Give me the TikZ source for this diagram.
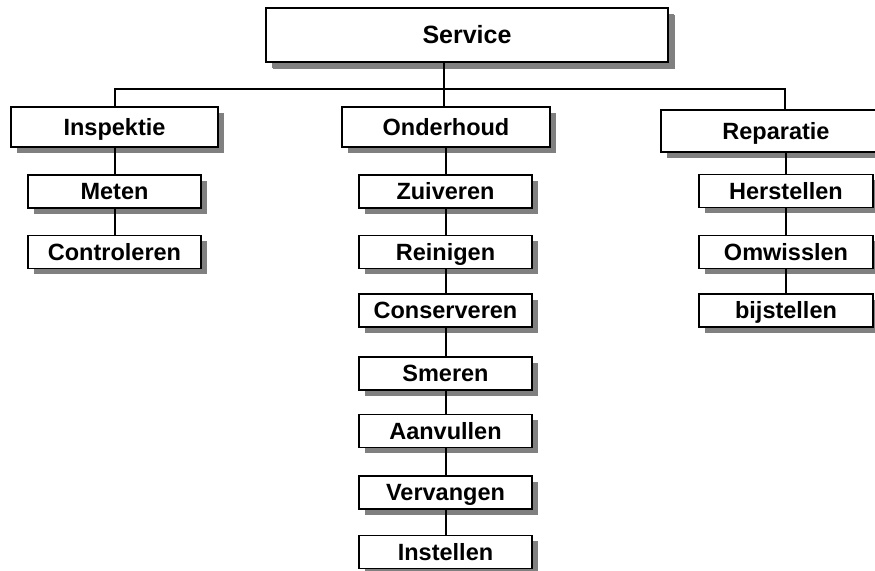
\documentclass[tikz,border=0pt]{standalone}
\usepackage{fontspec}
\setmainfont{Liberation Sans}
\usetikzlibrary{shadows}
\tikzset{
  box/.style={draw=black, line width=1.8pt, fill=white, inner sep=0pt,
    font=\bfseries\fontsize{23.5}{28}\selectfont,
    text height=17pt, text depth=0.2pt,
    general shadow={fill=black!50, shadow xshift=5.5pt, shadow yshift=-5.5pt}},
  bigbox/.style={box, font=\bfseries\fontsize{25}{30}\selectfont,
    text height=18pt, text depth=0.1pt,
    general shadow={fill=black!50, shadow xshift=6.5pt, shadow yshift=-6.5pt}},
  small/.style={box, minimum width=173pt, minimum height=33pt},
  mid/.style={box, minimum width=207pt, minimum height=40pt},
  conn/.style={line width=2pt, draw=black}
}
\begin{document}
\begin{tikzpicture}[x=1pt, y=-1pt]
\path[use as bounding box, clip] (0,0) rectangle (875,570);
\fill[white] (0,0) rectangle (875,570);
% nodes
\node[bigbox, minimum width=402pt, minimum height=54pt] (svc) at (467,35) {Service};
\node[mid] (ins) at (114.5,127) {Inspektie};
\node[mid, minimum width=208pt] (ond) at (446,127) {Onderhoud};
\node[mid, minimum width=230pt, minimum height=42pt] (rep) at (776,131) {Reparatie};
\node[small] (met) at (114.5,191.5) {Meten};
\node[small] (con) at (114.5,252) {Controleren};
\node[small] (zui) at (445.5,191.5) {Zuiveren};
\node[small] (rei) at (445.5,252) {Reinigen};
\node[small] (cns) at (445.5,310.5) {Conserveren};
\node[small] (sme) at (445.5,373.5) {Smeren};
\node[small] (aan) at (445.5,431) {Aanvullen};
\node[small] (ver) at (445.5,492.5) {Vervangen};
\node[small] (ist) at (445.5,552) {Instellen};
\node[small, minimum width=174pt] (her) at (786,191) {Herstellen};
\node[small, minimum width=174pt] (omw) at (786,252) {Omwisslen};
\node[small, minimum width=174pt] (bij) at (786,310.5) {bijstellen};
% bus coordinates
\coordinate (trunk) at (444,89);
\coordinate (busL) at (114.5,89);
\coordinate (busR) at (784.5,89);
% connectors
\draw[conn] (svc.south -| trunk) -- (ond.north -| trunk);
\draw[conn] (ins.north) -- (busL) -- (busR) -- (rep.north -| busR);
\draw[conn] (ins.south) -- (met.north);
\draw[conn] (met.south) -- (con.north);
\draw[conn] (ond.south -| zui.north) -- (zui.north);
\draw[conn] (zui.south) -- (rei.north);
\draw[conn] (rei.south) -- (cns.north);
\draw[conn] (cns.south) -- (sme.north);
\draw[conn] (sme.south) -- (aan.north);
\draw[conn] (aan.south) -- (ver.north);
\draw[conn] (ver.south) -- (ist.north);
\draw[conn] (rep.south -| her.north) -- (her.north);
\draw[conn] (her.south) -- (omw.north);
\draw[conn] (omw.south) -- (bij.north);
\end{tikzpicture}
\end{document}
